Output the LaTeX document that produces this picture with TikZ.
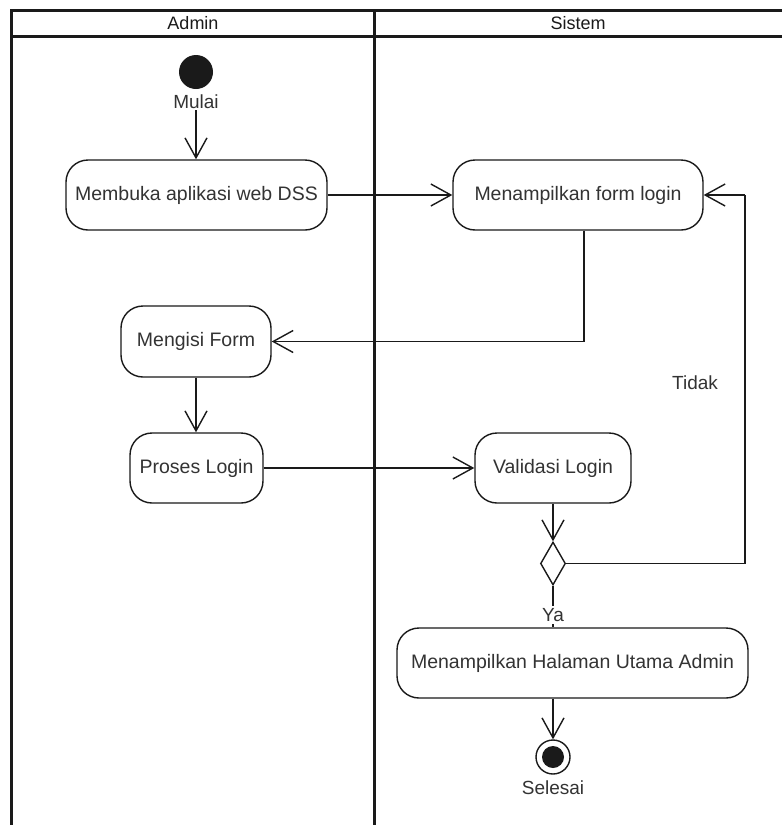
\documentclass[tikz,border=0pt]{standalone}
\usepackage{fontspec}
\setmainfont{Liberation Sans}
\usetikzlibrary{arrows.meta,shapes.geometric}
\definecolor{txt}{HTML}{333333}
\definecolor{ln}{HTML}{1A1A1A}
\begin{document}
\begin{tikzpicture}[x=1pt,y=-1pt,
  frame/.style={line width=3pt,draw=ln},
  act/.style={draw=ln,line width=1.4pt,rounded corners=22pt,inner sep=0pt,
    text=txt,font=\fontsize{19.5}{21}\selectfont,fill=white},
  lbl/.style={text=txt,font=\fontsize{19}{21}\selectfont,inner sep=1pt},
  hdr/.style={text=ln,font=\fontsize{18}{20}\selectfont,inner sep=0pt},
  arr/.style={draw=ln,line width=1.4pt,-{Straight Barb[length=20pt,width=22pt,line width=1.4pt]}},
  conn/.style={draw=ln,line width=1.4pt}]
\useasboundingbox (0,0) rectangle (782,825);
\fill[white] (0,0) rectangle (782,825);
% swimlanes
\draw[frame] (11,825) -- (11,10) -- (782,10);
\draw[frame] (11,36) -- (782,36);
\draw[frame] (374,10) -- (374,825);
\node[hdr] (hA) at (193,23) {Admin};
\node[hdr] (hS) at (578,23) {Sistem};
% nodes
\node[circle,fill=ln,minimum size=34pt,inner sep=0pt] (start) at (196,72) {};
\node[lbl] (mulai) at (196,102) {Mulai};
\node[act,minimum width=261pt,minimum height=70pt] (b1) at (196.5,195) {Membuka aplikasi web DSS};
\node[act,minimum width=250pt,minimum height=70pt] (b2) at (578,195) {Menampilkan form login};
\node[act,minimum width=150pt,minimum height=71pt] (b3) at (196,341.5) {Mengisi Form};
\node[act,minimum width=133pt,minimum height=70pt] (b4) at (196.5,468) {Proses Login};
\node[act,minimum width=156pt,minimum height=70pt] (b5) at (553,468) {Validasi Login};
\node[diamond,draw=ln,line width=1.4pt,fill=white,minimum width=25pt,minimum height=43pt,inner sep=0pt] (d) at (553,563.5) {};
\node[act,minimum width=351pt,minimum height=70pt] (b6) at (572.5,663) {Menampilkan Halaman Utama Admin};
\node[circle,draw=ln,line width=1.4pt,fill=white,minimum size=34pt,inner sep=0pt] (end) at (553,757) {};
\node[circle,fill=ln,minimum size=22pt,inner sep=0pt] (endin) at (end.center) {};
\node[lbl] (selesai) at (553,788) {Selesai};
\node[lbl] (tidak) at (695,383) {Tidak};
\coordinate (c1) at (584,341.5);
\coordinate (c2) at (745,195);
% connectors
\draw[arr] (mulai.south) -- (mulai.south |- b1.north);
\draw[arr] (b1.east) -- (b2.west);
\draw[conn] (b2.south -| c1) -- (c1);
\draw[arr] (c1) -- (b3.east);
\draw[arr] (b3.south) -- (b3.south |- b4.north);
\draw[arr] (b4.east) -- (b5.west);
\draw[arr] (b5.south) -- (d.north);
\draw[conn] (d.east) -| (c2);
\draw[arr] (c2) -- (b2.east);
\draw[conn] (d.south) -- (d.south |- b6.north);
\node[lbl,fill=white,inner sep=2pt] (ya) at (553,615) {Ya};
\draw[arr] (end.north |- b6.south) -- (end.north);
\end{tikzpicture}
\end{document}
